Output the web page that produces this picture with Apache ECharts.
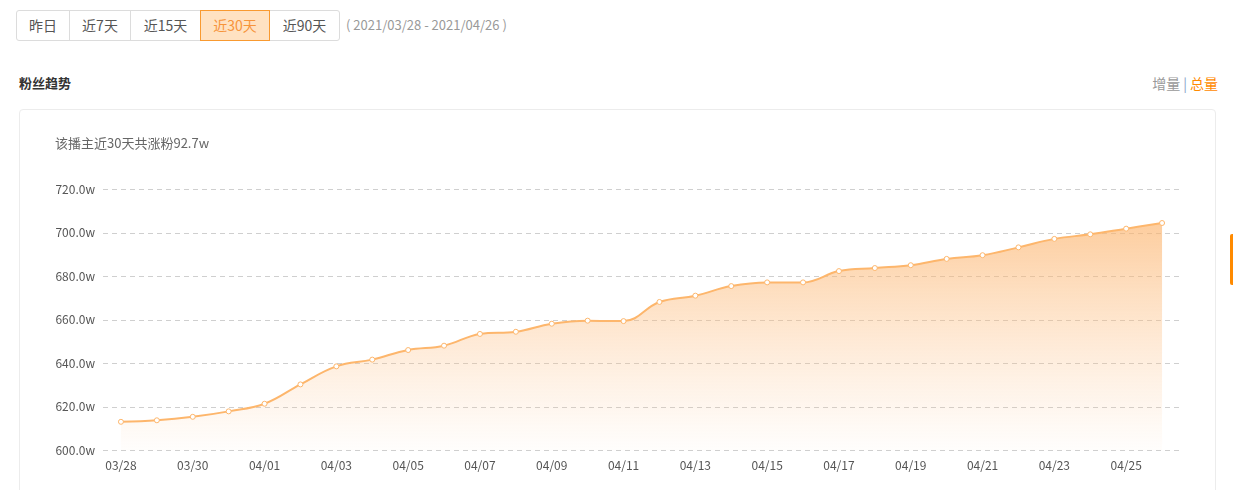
<!DOCTYPE html>
<html>
<head>
<meta charset="utf-8">
<script src="https://cdn.jsdelivr.net/npm/echarts@6/dist/echarts.min.js"></script>
<style>
  html, body { margin: 0; padding: 0; width: 1233px; height: 490px; overflow: hidden; background: #fff;
    font-family: "Noto Sans CJK SC", "Noto Sans", sans-serif; }
  .btns { position: absolute; left: 16px; top: 10px; height: 31px; display: flex; }
  .btn { box-sizing: border-box; height: 31px; line-height: 29px; border: 1px solid #dcdcdc; margin-left: -1px;
    text-align: center; font-size: 14px; color: #555; background: #fff; }
  .btn:first-child { margin-left: 0; border-radius: 3px 0 0 3px; }
  .btn:last-child { border-radius: 0 3px 3px 0; }
  .btn.active { background: #ffe2c2; border-color: #f99a30; color: #f7943a; position: relative; z-index: 1; }
  .range { position: absolute; left: 346px; top: 15px; font-size: 13px; color: #999; line-height: 20px; }
  .title { position: absolute; left: 19px; top: 73px; font-size: 13px; font-weight: bold; color: #333; line-height: 20px; }
  .switch { position: absolute; right: 15px; top: 73px; font-size: 14px; line-height: 20px; color: #999; }
  .switch .sep { color: #8aa4c8; margin: 0 3px; }
  .switch .on { color: #ff8a00; }
  .card { position: absolute; left: 19px; top: 109px; width: 1197px; height: 420px; box-sizing: border-box;
    border: 1px solid #ececec; border-radius: 4px; }
  .sidetab { position: absolute; left: 1230px; top: 234px; width: 3px; height: 51px; background: #ff8a00; border-radius: 2px 0 0 2px; }
  #chart { position: absolute; left: 0; top: 0; width: 1233px; height: 490px; }
</style>
</head>
<body>
<div class="btns">
  <div class="btn" style="width:54px">昨日</div>
  <div class="btn" style="width:62px">近7天</div>
  <div class="btn" style="width:71px">近15天</div>
  <div class="btn active" style="width:70px">近30天</div>
  <div class="btn" style="width:71px">近90天</div>
</div>
<div class="range">( 2021/03/28 - 2021/04/26 )</div>
<div class="title">粉丝趋势</div>
<div class="switch">增量<span class="sep">|</span><span class="on">总量</span></div>
<div class="card"></div>
<div class="sidetab"></div>
<div id="chart"></div>
<script>
const dates = ['03/28','03/29','03/30','03/31','04/01','04/02','04/03','04/04','04/05','04/06',
  '04/07','04/08','04/09','04/10','04/11','04/12','04/13','04/14','04/15','04/16',
  '04/17','04/18','04/19','04/20','04/21','04/22','04/23','04/24','04/25','04/26'];
const fans = [613.1, 613.8, 615.4, 617.9, 621.4, 630.3, 638.6, 641.7, 646.1, 648.1,
  653.5, 654.5, 658.2, 659.6, 659.4, 668.2, 671.1, 675.5, 677.2, 677.2,
  682.4, 683.8, 685.1, 688.0, 689.7, 693.3, 697.2, 699.3, 701.9, 704.5];
const subtitle = '该播主近30天共涨粉92.7w';

const chart = echarts.init(document.getElementById('chart'));
chart.setOption({
  animation: false,
  textStyle: { fontFamily: '"Noto Sans CJK SC", "Noto Sans", sans-serif' },
  title: {
    text: subtitle, left: 50, top: 132,
    textStyle: { fontSize: 13, fontWeight: 'normal', color: '#666' }
  },
  grid: { left: 103, right: 53, top: 189.3, bottom: 39.7, containLabel: false },
  xAxis: {
    type: 'category', data: dates, boundaryGap: true,
    axisLine: { show: false }, axisTick: { show: false },
    axisLabel: { interval: 1, color: '#555', fontSize: 12, margin: 9 }
  },
  yAxis: {
    type: 'value', min: 600, max: 720, interval: 20,
    axisLine: { show: false }, axisTick: { show: false },
    axisLabel: { color: '#555', fontSize: 12, margin: 8, formatter: v => v.toFixed(1) + 'w' },
    splitLine: { lineStyle: { type: [5, 4], color: '#cfcfcf' } }
  },
  series: [{
    type: 'line', data: fans, smooth: 0.4,
    symbol: 'circle', symbolSize: 5,
    itemStyle: { color: '#fff', borderColor: '#fdb66c', borderWidth: 1 },
    lineStyle: { color: '#fdb66c', width: 2 },
    areaStyle: {
      color: new echarts.graphic.LinearGradient(0, 0, 0, 1, [
        { offset: 0, color: 'rgba(252,178,105,0.92)' },
        { offset: 1, color: 'rgba(253,200,150,0.04)' }
      ])
    }
  }]
});
</script>
</body>
</html>
